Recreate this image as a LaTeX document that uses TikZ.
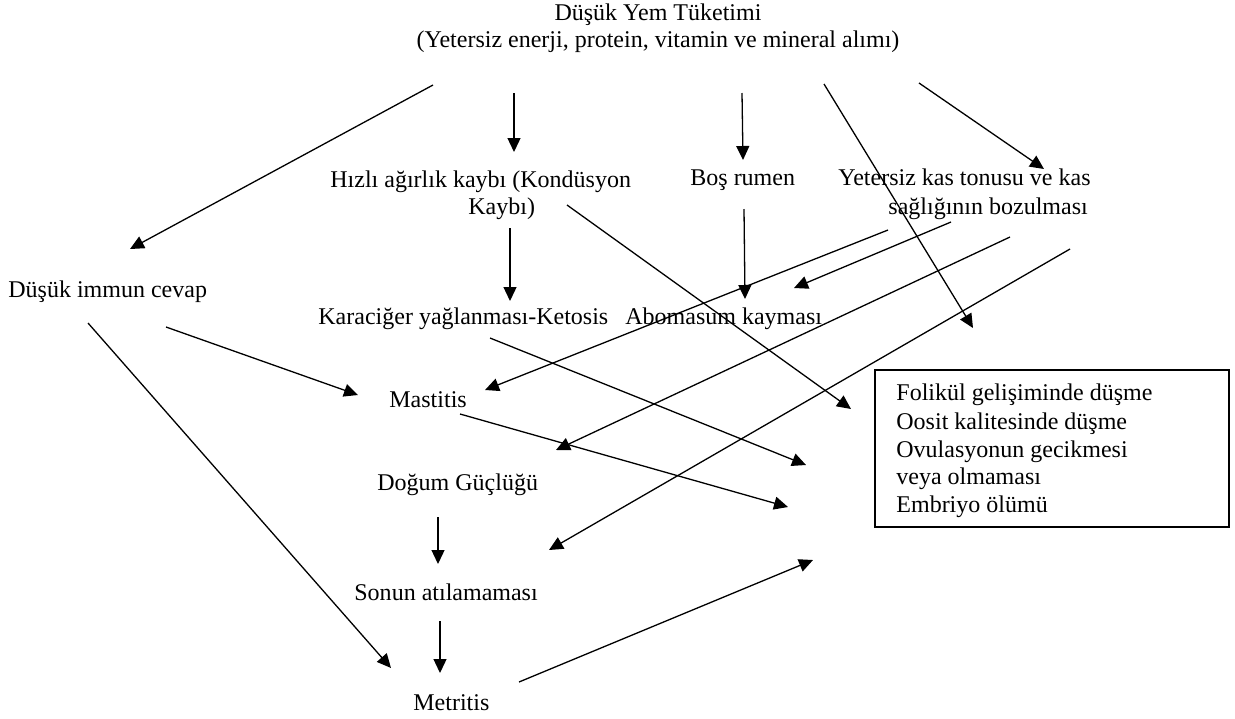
\documentclass[tikz,border=0pt]{standalone}
\usepackage{fontspec}
\setmainfont{Liberation Serif}
\usetikzlibrary{arrows.meta}
\begin{document}
\begin{tikzpicture}[x=0.5pt,y=-0.5pt,
  lbl/.style={anchor=base west,inner sep=0pt,font=\fontsize{12}{14}\selectfont},
  clbl/.style={anchor=base,inner sep=0pt,font=\fontsize{12}{14}\selectfont},
  arr/.style={line width=0.65pt,-{Triangle[length=7pt,width=6.5pt]}},
  frame/.style={draw,line width=0.8pt,anchor=north west,inner sep=0pt,minimum width=177pt,minimum height=78.5pt}]
\useasboundingbox (0,0) rectangle (1235,718);
% texts
\node[clbl] (t1) at (658,20) {Düşük Yem Tüketimi};
\node[clbl] (t2) at (658,47) {(Yetersiz enerji, protein, vitamin ve mineral alımı)};
\node[lbl] (h1) at (330,187) {Hızlı ağırlık kaybı (Kondüsyon};
\node[lbl] (h2) at (468,214) {Kaybı)};
\node[lbl] (bos) at (690,185) {Boş rumen};
\node[lbl] (y1) at (838,185) {Yetersiz kas tonusu ve kas};
\node[lbl] (y2) at (888,214) {sağlığının bozulması};
\node[lbl] (imm) at (8,297) {Düşük immun cevap};
\node[lbl] (kar) at (318,324) {Karaciğer yağlanması-Ketosis};
\node[lbl] (abo) at (625,324) {Abomasum kayması};
\node[lbl] (mas) at (389,407) {Mastitis};
\node[lbl] (dog) at (377,490) {Doğum Güçlüğü};
\node[lbl] (son) at (354,600) {Sonun atılamaması};
\node[lbl] (met) at (413,710) {Metritis};
\node[frame] (box) at (874,369) {};
\node[lbl] (f1) at (896,400) {Folikül gelişiminde düşme};
\node[lbl] (f2) at (896,429) {Oosit kalitesinde düşme};
\node[lbl] (f3) at (896,457) {Ovulasyonun gecikmesi};
\node[lbl] (f4) at (896,484) {veya olmaması};
\node[lbl] (f5) at (896,512) {Embriyo ölümü};
% connector end points
\coordinate (a1s) at (433,85);   \coordinate (a1e) at (130,249);
\coordinate (a2s) at (514,93);   \coordinate (a2e) at (514,152);
\coordinate (a3s) at (742,93);   \coordinate (a3e) at (743,160);
\coordinate (a4s) at (824,84);   \coordinate (a4e) at (973,328);
\coordinate (a5s) at (919,83);   \coordinate (a5e) at (1044,169);
\coordinate (a6s) at (510,228);  \coordinate (a6e) at (510,301);
\coordinate (a7s) at (567,205);  \coordinate (a7e) at (851,409);
\coordinate (a8s) at (744,209);  \coordinate (a8e) at (745,299);
\coordinate (a9s) at (888,230);  \coordinate (a9e) at (485,390);
\coordinate (a10s) at (951,222); \coordinate (a10e) at (794,288);
\coordinate (a11s) at (1010,237);\coordinate (a11e) at (556,450);
\coordinate (a12s) at (1070,249);\coordinate (a12e) at (549,550);
\coordinate (a13s) at (88,323);  \coordinate (a13e) at (391,668);
\coordinate (a14s) at (166,327); \coordinate (a14e) at (358,395);
\coordinate (a15s) at (490,338); \coordinate (a15e) at (806,465);
\coordinate (a16s) at (460,414); \coordinate (a16e) at (788,507);
\coordinate (a17s) at (438,517); \coordinate (a17e) at (438,564);
\coordinate (a18s) at (440,621); \coordinate (a18e) at (440,673);
\coordinate (a19s) at (519,682); \coordinate (a19e) at (813,560);
\foreach \i in {1,...,19} {\draw[arr] (a\i s) -- (a\i e);}
\end{tikzpicture}
\end{document}
